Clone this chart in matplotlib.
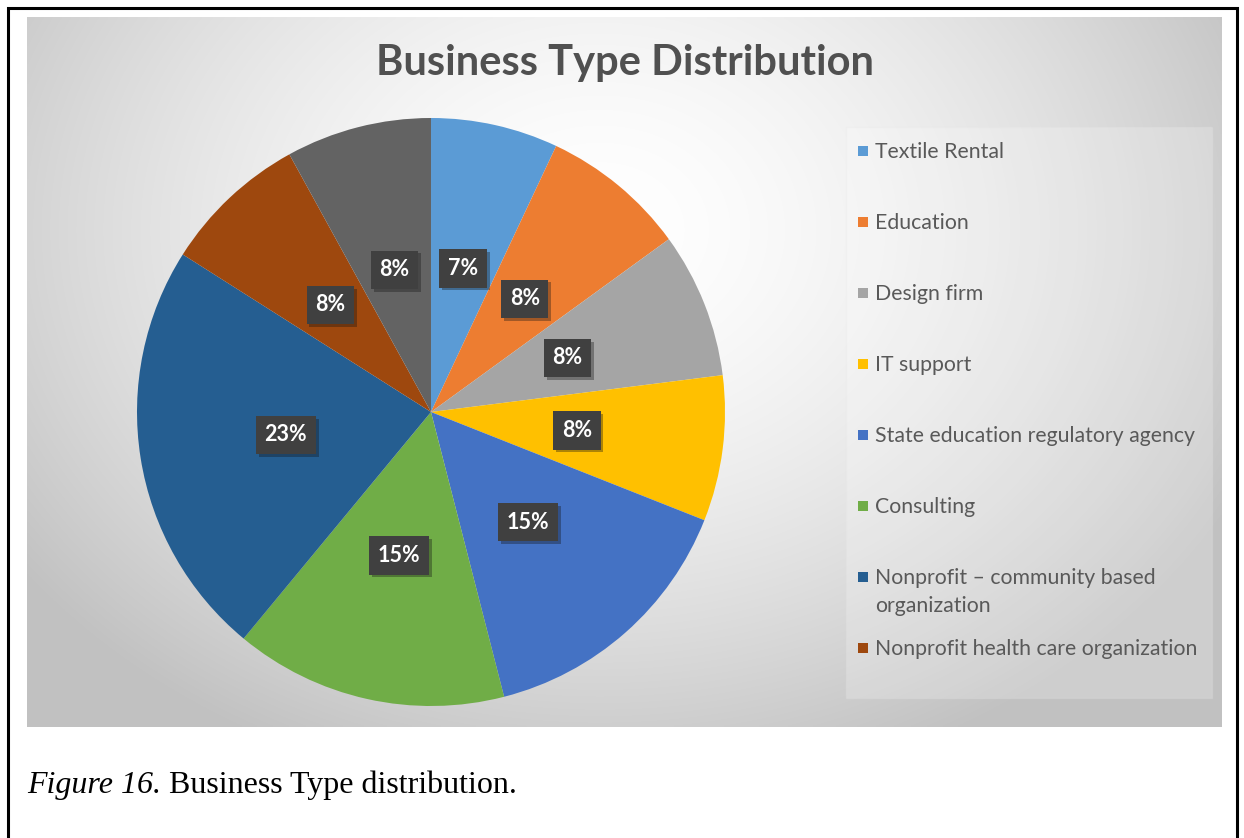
import numpy as np
import matplotlib
matplotlib.use("Agg")
from matplotlib import pyplot as plt
from matplotlib import patches
from matplotlib import patheffects as pe

# business type shares (percent), clockwise from 12 o'clock
shares = [7, 8, 8, 8, 15, 15, 23, 8, 8]
legend_names = ["Textile Rental", "Education", "Design firm", "IT support",
                "State education regulatory agency", "Consulting",
                "Nonprofit \u2013 community based\norganization",
                "Nonprofit health care organization"]
slice_colors = ["#5B9BD5", "#ED7D31", "#A5A5A5", "#FFC000", "#4472C4",
                "#70AD47", "#255E91", "#9E480E", "#636363"]

title = "Business Type Distribution"
W, H = 1244, 838
sans = ["Lato", "DejaVu Sans"]

fig = plt.figure(figsize=(W / 100, H / 100), dpi=100)
fig.patch.set_facecolor("white")

# full-figure axes in pixel coordinates for background, legend and caption
bg = fig.add_axes([0, 0, 1, 1])
bg.set_xlim(0, W)
bg.set_ylim(H, 0)
bg.axis("off")

# outer frame (open at the bottom)
bg.plot([8, 8, 1237, 1237], [H + 5, 8, 8, H + 5], color="black", lw=2.2,
        solid_joinstyle="miter", zorder=1)

# chart area with radial gradient
x0, x1, y0, y1 = 27, 1222, 18, 727
gx, gy = np.meshgrid(np.linspace(x0, x1, 400), np.linspace(y0, y1, 240))
r = np.hypot((gx - 600) / 700, (gy - 230) / 560)
shade = 1.0 - 0.23 * np.clip(r, 0, 1.4) ** 1.6
shade = np.clip(shade, 0.76, 1.0)
bg.imshow(np.dstack([shade, shade, shade]), extent=(x0, x1, y1, y0),
          aspect="auto", interpolation="bilinear", zorder=0)

bg.text((x0 + x1) / 2, 63, title, ha="center", va="center", fontsize=30,
        fontweight="bold", color="#505050", family=sans)

# legend panel
bg.add_patch(patches.Rectangle((846, 127), 366, 571, facecolor="white",
                               alpha=0.22, edgecolor="#e6e6e6", lw=1, zorder=2))
for i, name in enumerate(legend_names):
    y = 151 + 71 * i
    bg.add_patch(patches.Rectangle((858, y - 5), 10, 10,
                                   facecolor=slice_colors[i], lw=0, zorder=3))
    bg.text(875, y - 9, name, ha="left", va="top", fontsize=15.3,
            color="#595959", family=sans, linespacing=1.5, zorder=3)

# caption below the chart
cap1 = bg.text(27, 785, "Figure 16.", ha="left", va="center", fontsize=23,
               style="italic", family="Liberation Serif", color="black")
bg.annotate(" Business Type distribution.", xy=(1, 0), xycoords=cap1,
            ha="left", va="bottom", fontsize=23, family="Liberation Serif",
            color="black")

# pie axes, centre (431, 412), radius 294 px
cx, cy, rad = 431, 412, 294
pie_ax = fig.add_axes([(cx - rad) / W, 1 - (cy + rad) / H, 2 * rad / W, 2 * rad / H])
wedges, _, autotexts = pie_ax.pie(
    shares, colors=slice_colors, startangle=90, counterclock=False,
    autopct=lambda p: "{:.0f}%".format(p), pctdistance=0.5,
    wedgeprops=dict(linewidth=0),
    textprops=dict(color="white", fontsize=15.5, fontweight="bold",
                   family=sans))
pie_ax.set_aspect("equal")
pie_ax.set_xlim(-1, 1)
pie_ax.set_ylim(-1, 1)

for t in autotexts:
    t.set_bbox(dict(boxstyle="square,pad=0.4", facecolor="#404040",
                    edgecolor="none"))
    t.get_bbox_patch().set_path_effects(
        [pe.SimplePatchShadow(offset=(2, -2), alpha=0.35), pe.Normal()])

fig.savefig("out.png", dpi=100)
